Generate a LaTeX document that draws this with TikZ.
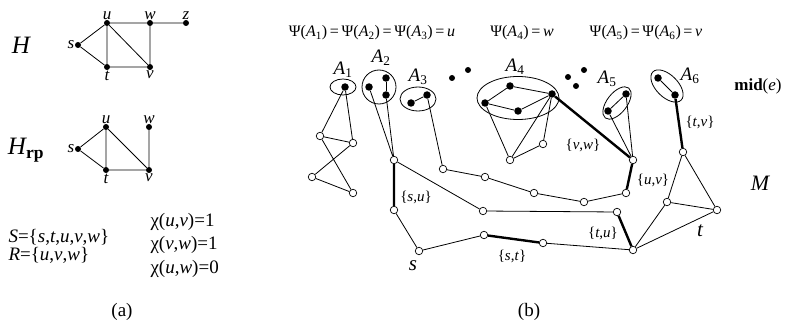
\documentclass[tikz,border=0pt]{standalone}
\usepackage{fontspec}
\setmainfont{Liberation Serif}
\newcommand{\vA}[1]{\textit{A}\textsubscript{#1}}
\newcommand{\eset}[2]{\{\textit{#1},\textit{#2}\}}
\begin{document}
\begin{tikzpicture}[x=1pt,y=-1pt,
	bdot/.style={circle,fill=black,inner sep=0pt,minimum size=7.5pt},
	sdot/.style={circle,fill=black,inner sep=0pt,minimum size=6pt},
	wdot/.style={circle,draw=black,fill=white,line width=0.7pt,inner sep=0pt,minimum size=7.5pt},
	ln/.style={line width=0.8pt},
	hv/.style={line width=2.4pt},
	lab/.style={font=\fontsize{17}{17}\selectfont\itshape},
	elab/.style={font=\fontsize{15}{15}\selectfont},
	big/.style={font=\fontsize{19}{19}\selectfont},
	alab/.style={font=\fontsize{19}{19}\selectfont}]
	\useasboundingbox (0,0) rectangle (785,326);

	% (a): the graph H
	\node[lab] at (21,45) {\fontsize{25}{25}\selectfont\textit{H}};
	\node[sdot,label={[lab,yshift=-3pt]above:u}] (hu) at (107,23) {};
	\node[sdot,label={[lab,yshift=-3pt]above:w}] (hw) at (150,23) {};
	\node[sdot,label={[lab,yshift=-3pt]above:z}] (hz) at (186,23) {};
	\node[sdot,label={[lab,xshift=3pt]left:s}]   (hs) at (78,45) {};
	\node[sdot,label={[lab,yshift=3pt]below:t}]  (ht) at (107,67) {};
	\node[sdot,label={[lab,yshift=3pt]below:v}]  (hv) at (150,67) {};
	\draw[ln] (hs) -- (hu) -- (hw) -- (hz);
	\draw[ln] (hs) -- (ht) -- (hv) -- (hw);
	\draw[ln] (hu) -- (ht) (hu) -- (hv);

	% (a): the graph H_rp
	\node[lab] at (26,150) {\fontsize{25}{25}\selectfont\textit{H}\textsubscript{\textbf{\upshape rp}}};
	\node[sdot,label={[lab,yshift=-3pt]above:u}] (ru) at (106,127) {};
	\node[sdot,label={[lab,yshift=-3pt]above:w}] (rw) at (149,127) {};
	\node[sdot,label={[lab,xshift=3pt]left:s}]   (rs) at (78,149) {};
	\node[sdot,label={[lab,yshift=3pt]below:t}]  (rt) at (106,170) {};
	\node[sdot,label={[lab,yshift=3pt]below:v}]  (rv) at (149,170) {};
	\draw[ln] (rs) -- (ru) -- (rt) -- (rs);
	\draw[ln] (ru) -- (rv) -- (rt) (rv) -- (rw);

	\node[big,anchor=west] at (5,237) {\textit{S}=\{\textit{s},\textit{t},\textit{u},\textit{v},\textit{w}\}};
	\node[big,anchor=west] at (5,255) {\textit{R}=\{\textit{u},\textit{v},\textit{w}\}};
	\node[big,anchor=west] at (147,222) {χ(\textit{u},\textit{v})=1};
	\node[big,anchor=west] at (147,245) {χ(\textit{v},\textit{w})=1};
	\node[big,anchor=west] at (147,269) {χ(\textit{u},\textit{w})=0};
	\node[font=\fontsize{19}{19}\selectfont] at (122,312) {(a)};

	% (b): the sets A_i
	\node[font=\fontsize{16}{16}\selectfont] at (372,33) {Ψ(\vA{1})\,=\,Ψ(\vA{2})\,=\,Ψ(\vA{3})\,=\,\textit{u}};
	\node[font=\fontsize{16}{16}\selectfont] at (522,33) {Ψ(\vA{4})\,=\,\textit{w}};
	\node[font=\fontsize{16}{16}\selectfont] at (646,33) {Ψ(\vA{5})\,=\,Ψ(\vA{6})\,=\,\textit{v}};
	\node[font=\fontsize{17}{17}\selectfont] at (758,86) {\textbf{mid}(\textit{e})};

	\node[bdot] (a1) at (345,87) {};
	\draw[ln] (343,87) ellipse [x radius=13,y radius=8];
	\node[alab] at (343,70) {\vA{1}};

	\node[bdot] (a2a) at (369,87) {};
	\node[bdot] (a2b) at (386,78) {};
	\node[bdot] (a2c) at (386,95) {};
	\draw[ln] (379,87) circle (17);
	\draw[ln] (a2b) -- (a2c);
	\node[alab] at (381,58) {\vA{2}};

	\node[bdot] (a3a) at (411,103) {};
	\node[bdot] (a3b) at (427,95) {};
	\draw[ln] (418,99) ellipse [x radius=18,y radius=12];
	\draw[ln] (a3a) -- (a3b);
	\node[alab] at (418,77) {\vA{3}};

	\node[sdot] (x1) at (452,78) {};
	\node[sdot] (x2) at (468,70) {};
	\node[sdot] (x3) at (568,77) {};
	\node[sdot] (x4) at (584,70) {};
	\node[sdot] (x5) at (576,86) {};

	\node[bdot] (a4a) at (485,103) {};
	\node[bdot] (a4b) at (510,86) {};
	\node[bdot] (a4c) at (518,111) {};
	\node[bdot] (a4d) at (552,94) {};
	\draw[ln] (518,98) ellipse [x radius=41,y radius=21.5];
	\draw[ln] (a4a) -- (a4b) -- (a4d) -- (a4c) -- (a4a);
	\node[alab] at (515,67) {\vA{4}};

	\node[bdot] (a5a) at (608,111) {};
	\node[bdot] (a5b) at (626,94) {};
	\draw[ln,rotate around={52:(617,103)}] (617,103) ellipse [x radius=19,y radius=10];
	\draw[ln] (a5a) -- (a5b);
	\node[alab] at (607,79) {\vA{5}};

	\node[bdot] (a6a) at (658,78) {};
	\node[bdot] (a6b) at (675,95) {};
	\draw[ln,rotate around={-45:(667,86)}] (667,86) ellipse [x radius=20,y radius=11];
	\draw[ln] (a6a) -- (a6b);
	\node[alab] at (690,76) {\vA{6}};

	% (b): the graph M
	\node[wdot] (m1) at (320,136) {};
	\node[wdot] (m2) at (353,143) {};
	\node[wdot] (m3) at (312,177) {};
	\node[wdot] (m4) at (353,193) {};
	\draw[ln] (a1) -- (m1) -- (m2) -- (a1);
	\draw[ln] (m1) -- (m4) -- (m3) -- (m2);

	\node[wdot] (n1) at (394,160) {};
	\node[wdot] (n2) at (394,210) {};
	\node[wdot] (ns) at (419,251) {};
	\node[wdot] (n3) at (484,235) {};
	\node[wdot] (n4) at (543,243) {};
	\node[wdot] (nt) at (633,250) {};
	\node[wdot] (n5) at (483,211) {};
	\node[wdot] (n6) at (617,212) {};
	\draw[ln] (a2a) -- (n1) -- (a2c);
	\draw[ln] (n1) -- (n5) -- (n6);
	\draw[ln] (n2) -- (ns) -- (n3) (n4) -- (nt);
	\draw[hv] (n1) -- (n2) (n3) -- (n4) (n6) -- (nt);

	\node[wdot] (p1) at (443,169) {};
	\node[wdot] (p2) at (485,177) {};
	\node[wdot] (p3) at (534,193) {};
	\node[wdot] (p4) at (584,202) {};
	\node[wdot] (p5) at (626,193) {};
	\node[wdot] (p6) at (633,160) {};
	\draw[ln] (a3b) -- (p1) -- (p2) -- (p3) -- (p4) -- (p5);
	\draw[hv] (p5) -- (p6) (a4d) -- (p6);
	\draw[ln] (a5a) -- (p6) -- (a5b);

	\node[wdot] (q1) at (510,160) {};
	\node[wdot] (q2) at (543,144) {};
	\draw[ln] (a4a) -- (q1) -- (a4d) -- (q2) -- (q1);

	\node[wdot] (r1) at (683,152) {};
	\node[wdot] (r2) at (667,202) {};
	\node[wdot] (r3) at (717,210) {};
	\draw[hv] (a6b) -- (r1);
	\draw[ln] (r1) -- (r2) -- (r3) -- (r1) (r2) -- (nt) -- (r3);

	\node[elab] at (416,197) {\eset{s}{u}};
	\node[elab] at (583,145) {\eset{v}{w}};
	\node[elab] at (653,180) {\eset{u}{v}};
	\node[elab] at (700,122) {\eset{t}{v}};
	\node[elab] at (603,233) {\eset{t}{u}};
	\node[elab] at (512,256) {\eset{s}{t}};
	\node[font=\fontsize{21}{21}\selectfont\itshape] at (413,266) {s};
	\node[font=\fontsize{21}{21}\selectfont\itshape] at (700,231) {t};
	\node[font=\fontsize{22}{22}\selectfont\itshape] at (760,183) {M};
	\node[font=\fontsize{19}{19}\selectfont] at (529,312) {(b)};
\end{tikzpicture}
\end{document}
